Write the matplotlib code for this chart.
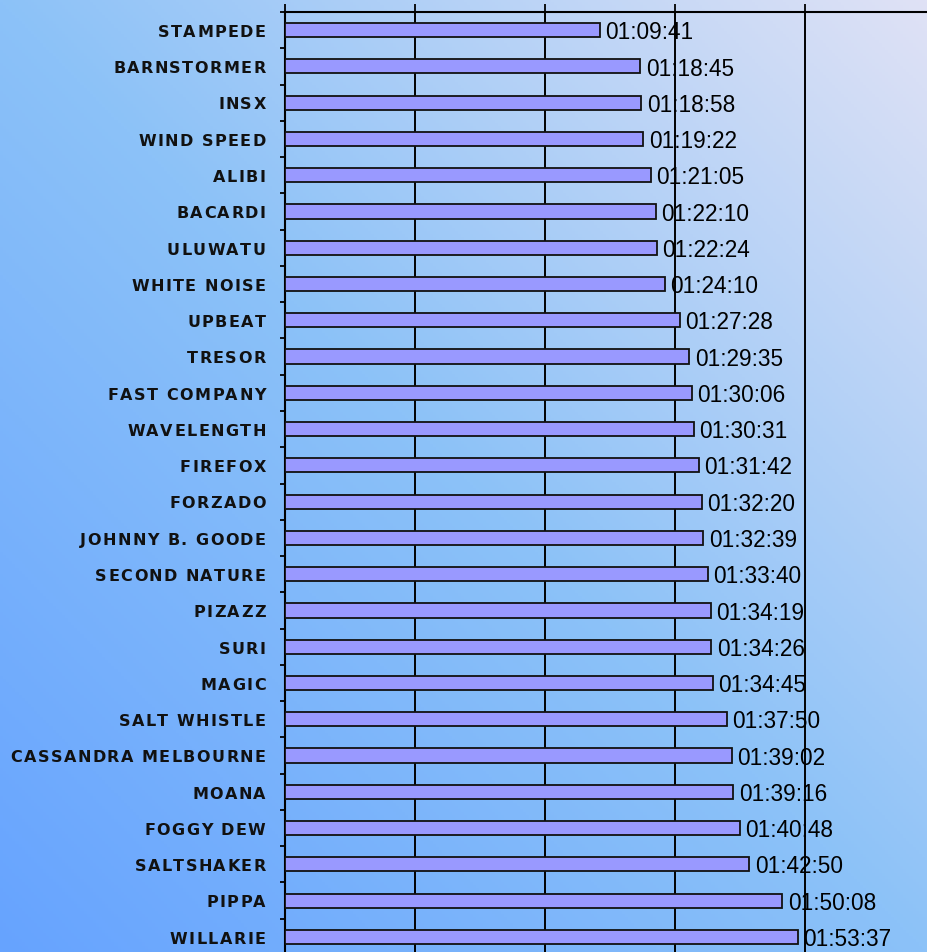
import matplotlib
matplotlib.use("Agg")
import matplotlib.pyplot as plt
import numpy as np
from matplotlib import font_manager
from matplotlib.ft2font import FT2Font

# boats and elapsed times (h:m:s)
boats = ["STAMPEDE", "BARNSTORMER", "INSX", "WIND SPEED", "ALIBI", "BACARDI",
         "ULUWATU", "WHITE NOISE", "UPBEAT", "TRESOR", "FAST COMPANY",
         "WAVELENGTH", "FIREFOX", "FORZADO", "JOHNNY B. GOODE", "SECOND NATURE",
         "PIZAZZ", "SURI", "MAGIC", "SALT WHISTLE", "CASSANDRA MELBOURNE",
         "MOANA", "FOGGY DEW", "SALTSHAKER", "PIPPA", "WILLARIE"]
times = ["01:09:41", "01:18:45", "01:18:58", "01:19:22", "01:21:05", "01:22:10",
         "01:22:24", "01:24:10", "01:27:28", "01:29:35", "01:30:06", "01:30:31",
         "01:31:42", "01:32:20", "01:32:39", "01:33:40", "01:34:19", "01:34:26",
         "01:34:45", "01:37:50", "01:39:02", "01:39:16", "01:40:48", "01:42:50",
         "01:50:08", "01:53:37"]

def to_days(t):
    h, m, s = [int(v) for v in t.split(":")]
    return (h * 3600 + m * 60 + s) / 86400.0

vals = [to_days(t) for t in times]
ypos = np.arange(len(boats))

W, H, DPI = 928, 953, 100
fig = plt.figure(figsize=(W / DPI, H / DPI), dpi=DPI)

# background gradient (bottom-left saturated blue -> top-right pale lavender)
bg = fig.add_axes([0, 0, 1, 1], zorder=-10)
xx, yy = np.meshgrid(np.linspace(0, 1, 300), np.linspace(0, 1, 300))
t = (xx + (1 - yy)) / 2.0
c0 = np.array([102, 163, 255]) / 255.0
c1 = np.array([140, 194, 248]) / 255.0
c2 = np.array([224, 226, 245]) / 255.0
img = np.where(t[..., None] < 0.5,
               c0 + (c1 - c0) * (t[..., None] / 0.5),
               c1 + (c2 - c1) * ((t[..., None] - 0.5) / 0.5))
bg.imshow(img, aspect="auto", extent=[0, 1, 0, 1], origin="upper")
bg.axis("off")

# plot area
left = 285 / W
top = 13 / H
band = 36.27
ah = band * len(boats) / H
ax = fig.add_axes([left, 1 - top - ah, 650 / W, ah])
ax.patch.set_alpha(0)

ax.barh(ypos, vals, height=0.39, color="#9999ff", edgecolor="#111111",
        linewidth=1.3, zorder=3)

ax.set_xlim(0, 0.1)
ax.set_ylim(len(boats) - 0.5, -0.5)
ax.set_xticks(np.arange(0, 0.1001, 0.02))
ax.xaxis.tick_top()
ax.tick_params(axis="x", direction="out", length=5.8, width=1.3,
               color="black", labeltop=False, labelbottom=False)
ax.grid(axis="x", color="black", linewidth=1.4, zorder=1)
ax.set_yticks(ypos)
ax.set_yticklabels([])
ax.tick_params(axis="y", which="major", length=0)
ax.set_yticks(np.arange(-0.5, len(boats), 1), minor=True)
ax.tick_params(axis="y", which="minor", direction="out", length=3.6,
               width=1.3, color="black")
for s in ["right", "bottom"]:
    ax.spines[s].set_visible(False)
for s in ["top", "left"]:
    ax.spines[s].set_linewidth(1.5)
    ax.spines[s].set_color("black")

# letter-spaced bold category labels
LBL_SIZE = 11.5
fp = font_manager.FontProperties(family="DejaVu Sans", weight="bold",
                                 size=LBL_SIZE)
ft = FT2Font(font_manager.findfont(fp))
ft.set_size(LBL_SIZE, 72)

def advances(s):
    return [ft.load_char(ord(c)).linearHoriAdvance / 65536.0 for c in s]

# spacing so the longest label spans ~255 px like the original
ref = "CASSANDRA MELBOURNE"
SPACING = (255 * 72 / DPI - sum(advances(ref))) / (len(ref) - 1)
cap = 0.729 * LBL_SIZE
for y, name in zip(ypos, boats):
    adv = advances(name)
    total = sum(adv) + SPACING * (len(name) - 1)
    x = -14.0 - total
    for c, a in zip(name, adv):
        if c != " ":
            ax.annotate(c, xy=(0, y), xycoords=("axes fraction", "data"),
                        xytext=(x, -cap / 2), textcoords="offset points",
                        ha="left", va="baseline", fontproperties=fp,
                        color="#111111", annotation_clip=False)
        x += a + SPACING

# value labels
VAL_SIZE = 16.3
for y, v, lab in zip(ypos, vals, times):
    ax.annotate(lab, xy=(v, y), xytext=(4.0, -0.716 * VAL_SIZE / 2),
                textcoords="offset points", ha="left", va="baseline",
                fontsize=VAL_SIZE, family="Liberation Sans", color="black",
                zorder=5, annotation_clip=False)

fig.savefig("out.png", dpi=DPI)
